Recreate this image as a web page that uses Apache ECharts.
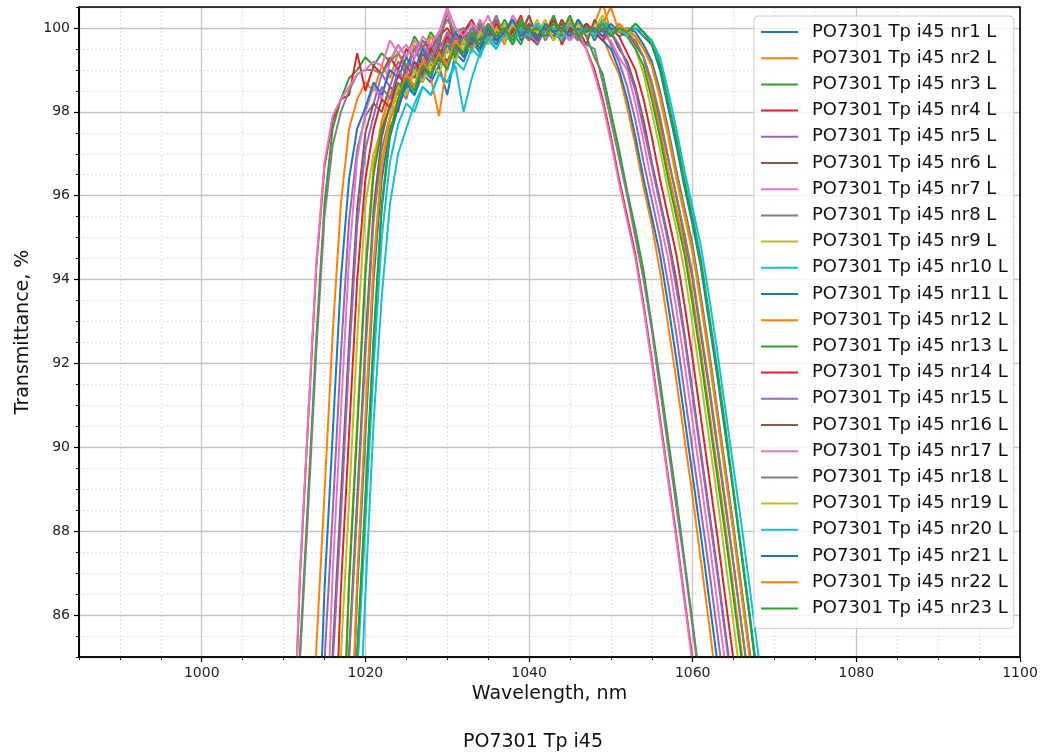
<!DOCTYPE html>
<html>
<head>
<meta charset="utf-8">
<script src="https://cdn.jsdelivr.net/npm/echarts@6/dist/echarts.min.js"></script>
<style>
  html, body { margin: 0; padding: 0; background: #fff; }
  #box { width: 1043px; height: 756px; }
</style>
</head>
<body>
<div id="box"></div>
<script>
// wavelength grid, nm
const wavelength = [1010, 1011, 1012, 1013, 1014, 1015, 1016, 1017, 1018, 1019, 1020,
  1021, 1022, 1023, 1024, 1025, 1026, 1027, 1028, 1029, 1030, 1031, 1032, 1033, 1034, 1035,
  1036, 1037, 1038, 1039, 1040, 1041, 1042, 1043, 1044, 1045, 1046, 1047, 1048, 1049, 1050,
  1051, 1052, 1053, 1054, 1055, 1056, 1057, 1058, 1059, 1060, 1061, 1062, 1063, 1064, 1065,
  1066, 1067, 1068, 1069, 1070];

// transmittance, %
const nr1 = [60, 60, 60, 60, 60, 62, 66, 71, 78, 85.0, 88.7,
  92.5, 95.7, 97.4, 98.1, 98.6, 98.4, 98.9, 98.7, 99.1, 98.4, 99.4,
  99.2, 99.7, 99.4, 99.9, 99.6, 100.0, 99.8, 100.1, 99.7, 100.0, 99.9, 100.2, 99.8, 100.0, 99.9, 100.1, 99.7, 100.0, 99.8, 100.1, 99.9, 100.0,
  99.8, 99.6, 99.0, 98.1, 97.2, 96.2, 95.3, 94.3, 93.0, 91.7, 90.3, 88.9, 87.4, 85.9, 84.3, 82.7, 80.8];
const nr2 = [62, 66, 71, 78.2, 85.2, 88.9, 92.7, 95.8, 97.6, 98.3, 98.7,
  98.5, 99.1, 98.8, 99.4, 99.0, 99.6, 99.2, 99.8, 99.5, 99.9, 99.6,
  100.0, 99.7, 100.2, 99.8, 100.0, 99.6, 100.1, 99.9, 100.3, 99.8, 100.0, 99.7, 100.1, 99.9, 100.2, 99.8, 100.0,
  99.8, 99.3, 98.9, 98.1, 97.2, 96.2, 95.3, 94.2, 92.9, 91.6, 90.2, 88.8, 87.3, 85.8, 84.2, 82.6, 80.8, 78, 76, 74, 72, 70];
const nr3 = [71, 78, 85.1, 88.8, 92.6, 95.8, 97.6, 98.3, 98.8, 99.0, 99.3,
  99.1, 99.4, 99.2, 99.6, 99.3, 99.8, 99.5, 99.9, 99.6, 100.4, 99.7,
  99.9, 100.1, 99.7, 100.0, 99.8, 100.2, 99.9, 99.6, 100.1, 99.8, 100.0, 99.7, 100.2, 99.9, 100.1,
  99.8, 99.3, 98.9, 98.0, 97.1, 96.1, 95.2, 94.2, 92.9, 91.6, 90.2, 88.8, 87.3, 85.8, 84.2, 82.6, 80.8, 78, 76, 74, 72, 70, 68, 66];
const nr4 = [74.5, 81.5, 86.9, 90.6, 94.3, 96.7, 97.8, 98.3, 98.4, 99.4, 98.5,
  99.1, 98.9, 99.3, 99.0, 99.5, 99.3, 99.7, 99.5, 99.8, 100.0, 99.7,
  99.9, 100.2, 99.8, 100.0, 99.7, 100.1, 99.9, 100.2, 99.8, 99.6, 100.0, 99.9, 99.7, 100.1, 99.8,
  99.5, 99.0, 98.3, 97.4, 96.4, 95.5, 94.6, 93.4, 92.1, 90.7, 89.3, 87.9, 86.4, 84.9, 83.4, 81.8, 78.5, 76, 74, 72, 70, 68, 66, 64];
const nr5 = [60, 62, 66, 71, 78, 84.9, 88.4, 92.2, 95.4, 97.1, 97.9,
  98.2, 98.9, 98.6, 99.2, 98.9, 99.5, 99.1, 99.6, 99.3, 99.9, 99.5,
  99.9, 99.6, 100.1, 99.8, 100.0, 99.7, 100.2, 99.9, 99.8, 100.1, 99.7, 100.0, 99.9, 100.2, 99.8, 100.0, 99.9, 100.1,
  99.6, 99.2, 98.6, 97.8, 96.8, 95.9, 95.0, 93.9, 92.7, 91.3, 89.9, 88.5, 87.1, 85.6, 84.1, 82.5, 80.8, 78, 76, 74, 72];
const nr6 = [60, 60, 62, 66, 71, 78, 85.1, 88.8, 92.5, 95.7, 97.5,
  98.2, 98.0, 98.6, 98.4, 99.1, 98.8, 99.4, 99.1, 99.6, 100.4, 99.5,
  99.9, 99.6, 100.0, 99.8, 100.2, 99.7, 100.0, 99.9, 100.1, 99.7, 100.0, 99.8, 100.2, 99.9, 99.7, 100.0, 99.8, 100.1, 99.9,
  99.5, 99.2, 98.6, 97.8, 96.8, 95.9, 95.0, 94.0, 92.7, 91.3, 89.9, 88.5, 87.1, 85.6, 84.1, 82.5, 80.8, 78, 76, 74];
const nr7 = [60, 60, 63, 67, 74.6, 81.7, 87.0, 90.8, 94.5, 96.9, 98.0,
  98.6, 98.3, 99.2, 99.6, 99.3, 99.7, 99.4, 99.6, 99.9, 100.4, 99.8,
  100.0, 99.7, 100.2, 99.9, 100.1, 99.8, 100.3, 100.0, 99.7, 100.1, 99.9, 100.2, 99.8, 100.0, 99.7, 100.1, 99.9, 99.8,
  99.7, 99.3, 99.0, 98.2, 97.3, 96.3, 95.4, 94.5, 93.3, 92.0, 90.6, 89.2, 87.8, 86.3, 84.8, 83.2, 81.6, 78.5, 76, 74, 72];
const nr8 = [71, 78, 84.9, 88.5, 92.3, 95.5, 97.2, 98.0, 98.5, 98.9, 99.0,
  99.0, 98.9, 99.2, 99.4, 99.1, 99.5, 99.7, 99.4, 99.8, 100.2, 99.9,
  100.0, 99.7, 100.1, 99.9, 100.3, 99.8, 99.9, 100.1, 99.7, 100.0, 99.9, 100.2, 99.8, 100.0, 99.9,
  99.6, 99.5, 98.7, 97.8, 96.9, 96.0, 95.0, 94.0, 92.8, 91.4, 90.0, 88.6, 87.2, 85.7, 84.2, 82.6, 80.8, 78, 76, 74, 72, 70, 68, 66];
const nr9 = [60, 60, 60, 62, 66, 71, 78, 85.0, 88.7, 92.6, 95.8,
  97.0, 97.6, 98.5, 98.3, 98.9, 98.6, 99.2, 99.0, 99.5, 99.2, 99.7,
  99.5, 99.9, 99.6, 100.0, 99.8, 100.1, 99.7, 100.0, 99.9, 100.2, 99.8, 100.0, 99.7, 100.1, 99.9, 100.0, 99.8, 100.2, 99.9, 100.0,
  99.8, 99.5, 98.9, 98.0, 97.1, 96.1, 95.2, 94.2, 92.9, 91.6, 90.2, 88.8, 87.3, 85.8, 84.2, 82.6, 80.8, 78, 76];
const nr10 = [60, 60, 60, 60, 60, 60, 63, 67, 74.3, 82.0, 86.5,
  90.6, 93.6, 95.8, 97.0, 97.6, 98.2, 98.6, 98.4, 98.9, 98.7, 99.1,
  98.0, 98.8, 99.4, 99.7, 99.5, 99.9, 99.6, 100.0, 99.8, 100.1, 99.9, 100.0, 99.7, 100.1, 99.9, 100.0, 99.8, 100.1, 99.9, 100.0, 99.9, 100.1,
  99.9, 99.7, 99.3, 98.5, 97.6, 96.6, 95.7, 94.8, 93.6, 92.3, 90.9, 89.5, 88.1, 86.6, 85.1, 83.5, 81.8];
const nr11 = [60, 63, 67, 74.5, 81.4, 86.6, 90.3, 94.0, 96.4, 97.6, 98.1,
  98.7, 98.4, 99.0, 98.8, 99.3, 99.0, 99.5, 99.2, 99.7, 99.4, 99.9,
  99.6, 100.0, 99.7, 100.1, 99.8, 99.9, 100.2, 99.7, 100.0, 99.8, 100.1, 99.9, 99.7, 100.0, 99.8, 100.1, 99.9,
  99.7, 99.5, 99.0, 98.3, 97.4, 96.4, 95.5, 94.6, 93.4, 92.1, 90.7, 89.3, 87.9, 86.4, 84.9, 83.4, 81.8, 78.5, 76, 74, 72, 70];
const nr12 = [60, 60, 60, 60, 63, 67, 74.6, 81.6, 86.9, 90.6, 94.3,
  96.7, 97.8, 98.4, 98.2, 98.9, 98.6, 99.0, 98.8, 97.9, 99.2, 99.6,
  99.3, 99.9, 99.6, 100.0, 99.7, 99.9, 100.2, 99.8, 100.0, 99.7, 100.1, 99.9, 100.0, 99.8, 100.2, 99.9, 100.1, 100.6, 99.9, 100.1,
  99.9, 99.7, 99.3, 98.5, 97.6, 96.6, 95.7, 94.8, 93.6, 92.3, 90.9, 89.5, 88.1, 86.6, 85.1, 83.5, 81.8, 78.5, 76];
const nr13 = [60, 60, 60, 60, 63, 67, 74.4, 81.4, 86.7, 90.4, 94.1,
  96.5, 97.6, 98.1, 98.7, 98.4, 99.0, 98.7, 99.3, 99.1, 99.6, 99.3,
  99.8, 99.5, 100.1, 99.7, 99.9, 100.0, 99.6, 100.1, 99.8, 100.0, 99.9, 100.3, 99.8, 100.0, 99.7, 100.1, 99.9, 100.2, 100.0, 99.9,
  99.8, 99.5, 99.1, 98.3, 97.4, 96.4, 95.5, 94.6, 93.4, 92.1, 90.7, 89.3, 87.9, 86.4, 84.9, 83.4, 81.8, 78.5, 76];
const nr14 = [60, 60, 60, 63, 67, 74.4, 81.3, 86.6, 90.3, 94.0, 96.4,
  97.6, 98.3, 98.1, 98.9, 98.6, 99.2, 98.9, 99.5, 99.2, 99.8, 99.4,
  99.9, 99.6, 100.0, 99.7, 100.1, 99.8, 99.9, 100.3, 99.7, 100.0, 99.9, 100.2, 99.6, 100.0, 99.8, 100.1, 99.9, 99.7, 100.0,
  99.8, 99.4, 99.0, 98.3, 97.4, 96.4, 95.5, 94.6, 93.4, 92.1, 90.7, 89.3, 87.9, 86.4, 84.9, 83.3, 81.7, 78.5, 76, 74];
const nr15 = [60, 60, 62, 66, 71, 78, 84.8, 88.3, 92.1, 95.3, 97.1,
  97.9, 98.6, 98.3, 99.0, 98.7, 99.3, 99.6, 99.2, 99.7, 99.4, 99.8,
  99.6, 100.0, 99.8, 100.1, 99.7, 99.9, 100.2, 99.8, 100.0, 99.6, 100.1, 99.9, 100.0, 99.7, 100.2, 99.9, 100.0, 99.8, 99.9,
  99.6, 99.1, 98.5, 97.6, 96.7, 95.8, 94.9, 93.8, 92.6, 91.2, 89.8, 88.4, 87.0, 85.5, 84.0, 82.5, 80.8, 78, 76, 74];
const nr16 = [60, 60, 60, 60, 62, 66, 71, 78, 85.1, 88.8, 92.5,
  95.7, 97.4, 98.2, 98.0, 98.9, 98.6, 99.2, 98.9, 99.5, 99.2, 99.6,
  99.4, 99.8, 99.5, 100.0, 99.7, 99.9, 100.1, 99.8, 100.3, 99.7, 100.0, 99.9, 100.1, 99.8, 100.0, 99.6, 100.2, 99.9, 100.0, 99.8, 99.9,
  99.6, 99.3, 98.7, 97.8, 96.9, 96.0, 95.0, 94.0, 92.7, 91.4, 90.0, 88.6, 87.2, 85.7, 84.2, 82.6, 80.8, 78];
const nr17 = [74.5, 81.6, 87.0, 90.7, 94.4, 96.8, 97.9, 98.3, 98.6, 98.9, 99.0,
  99.2, 99.1, 99.7, 99.4, 99.6, 99.3, 99.8, 99.6, 99.9, 100.5, 100.0,
  99.8, 100.1, 99.9, 100.3, 99.8, 100.0, 99.7, 100.2, 99.9, 100.1, 99.8, 100.0, 99.9, 99.7, 99.9,
  99.5, 98.9, 98.2, 97.3, 96.3, 95.4, 94.5, 93.3, 92.0, 90.6, 89.2, 87.8, 86.3, 84.8, 83.3, 81.7, 78.5, 76, 74, 72, 70, 68, 66, 64];
const nr18 = [60, 60, 60, 60, 62, 66, 71, 78, 84.9, 88.5, 92.2,
  95.4, 97.1, 97.9, 98.6, 98.3, 99.1, 98.8, 99.4, 99.1, 99.7, 99.4,
  99.8, 99.5, 100.1, 99.7, 100.0, 99.8, 100.2, 99.9, 99.7, 100.1, 99.8, 100.0, 99.9, 100.2, 99.7, 100.0, 99.8, 100.1, 99.9, 100.0, 99.8,
  99.7, 99.3, 98.7, 97.9, 96.9, 96.0, 95.1, 94.1, 92.8, 91.5, 90.1, 88.7, 87.2, 85.7, 84.2, 82.6, 80.8, 78];
const nr19 = [60, 60, 60, 60, 60, 63, 67, 74.5, 81.5, 86.7, 90.6,
  94.4, 96.8, 97.9, 98.6, 98.4, 99.0, 98.7, 99.2, 98.9, 99.5, 99.2,
  99.7, 99.4, 99.9, 99.6, 100.0, 99.7, 100.1, 99.8, 100.0, 99.9, 100.2, 99.7, 100.0, 99.8, 100.1, 99.9, 100.0, 100.3, 99.8, 100.0, 99.9,
  99.8, 99.5, 99.1, 98.3, 97.4, 96.4, 95.5, 94.6, 93.4, 92.1, 90.7, 89.3, 87.9, 86.4, 84.9, 83.4, 81.8, 78.5];
const nr20 = [60, 60, 60, 60, 60, 62, 66, 70.5, 77.5, 84.6, 88.2,
  91.9, 95.0, 96.8, 97.7, 98.2, 98.0, 98.6, 98.4, 98.9, 98.7, 99.2,
  99.0, 99.5, 99.3, 99.8, 99.5, 99.9, 99.7, 100.0, 99.8, 100.1, 99.9, 100.0, 99.7, 100.1, 99.9, 100.0, 99.8, 100.2, 99.9, 100.0, 99.8, 100.0,
  99.9, 99.7, 99.2, 98.3, 97.4, 96.4, 95.5, 94.5, 93.2, 91.9, 90.5, 89.0, 87.5, 86.0, 84.4, 82.8, 80.9];
const nr21 = [60, 60, 60, 60, 60, 63, 67, 74.4, 81.4, 86.6, 90.3,
  94.0, 96.4, 97.6, 98.1, 98.7, 98.4, 99.1, 98.8, 99.4, 99.1, 99.6,
  99.3, 99.8, 99.5, 100.0, 99.7, 99.9, 100.2, 99.8, 100.0, 99.7, 100.1, 99.9, 100.0, 99.8, 100.2, 99.9, 100.0, 99.8, 100.1, 99.9, 100.0,
  99.9, 99.6, 99.2, 98.5, 97.6, 96.6, 95.7, 94.8, 93.6, 92.3, 90.9, 89.5, 88.1, 86.6, 85.1, 83.5, 81.8, 78.5];
const nr22 = [60, 60, 60, 60, 60, 63, 67, 74.6, 81.6, 86.9, 90.7,
  94.3, 96.7, 97.8, 98.3, 98.9, 98.6, 99.2, 98.9, 99.4, 99.1, 99.7,
  99.4, 99.9, 99.6, 100.1, 99.8, 100.0, 99.7, 100.2, 99.9, 100.0, 99.8, 100.1, 99.9, 100.2, 99.8, 100.0, 99.9, 100.1, 100.5, 99.9, 100.0,
  99.8, 99.5, 99.1, 98.4, 97.5, 96.5, 95.6, 94.7, 93.5, 92.2, 90.8, 89.4, 88.0, 86.5, 85.0, 83.4, 81.8, 78.5];
const nr23 = [60, 60, 60, 60, 60, 62, 66, 71, 78, 85.1, 88.8,
  92.6, 95.8, 97.5, 98.3, 98.8, 98.5, 99.1, 98.9, 99.3, 99.0, 99.6,
  99.4, 99.9, 99.6, 100.1, 99.8, 100.0, 99.7, 100.2, 99.9, 100.0, 99.8, 100.1, 99.9, 100.3, 99.8, 100.0, 99.9, 100.1, 99.8, 100.0, 99.9, 100.1,
  99.9, 99.6, 99.1, 98.2, 97.3, 96.3, 95.4, 94.4, 93.1, 91.8, 90.4, 88.9, 87.4, 85.9, 84.3, 82.7, 80.8];

const curves = [nr1, nr2, nr3, nr4, nr5, nr6, nr7, nr8, nr9, nr10, nr11, nr12,
  nr13, nr14, nr15, nr16, nr17, nr18, nr19, nr20, nr21, nr22, nr23];

const names = ["PO7301 Tp i45 nr1 L", "PO7301 Tp i45 nr2 L", "PO7301 Tp i45 nr3 L",
  "PO7301 Tp i45 nr4 L", "PO7301 Tp i45 nr5 L", "PO7301 Tp i45 nr6 L",
  "PO7301 Tp i45 nr7 L", "PO7301 Tp i45 nr8 L", "PO7301 Tp i45 nr9 L",
  "PO7301 Tp i45 nr10 L", "PO7301 Tp i45 nr11 L", "PO7301 Tp i45 nr12 L",
  "PO7301 Tp i45 nr13 L", "PO7301 Tp i45 nr14 L", "PO7301 Tp i45 nr15 L",
  "PO7301 Tp i45 nr16 L", "PO7301 Tp i45 nr17 L", "PO7301 Tp i45 nr18 L",
  "PO7301 Tp i45 nr19 L", "PO7301 Tp i45 nr20 L", "PO7301 Tp i45 nr21 L",
  "PO7301 Tp i45 nr22 L", "PO7301 Tp i45 nr23 L"];

// matplotlib tab10
const palette = ["#1f77b4", "#ff7f0e", "#2ca02c", "#d62728", "#9467bd",
  "#8c564b", "#e377c2", "#7f7f7f", "#bcbd22", "#17becf"];

const font = "DejaVu Sans";
let myChart = echarts.init(document.getElementById("box"));

let option = {
  animation: false,
  color: palette,
  textStyle: { fontFamily: font },
  grid: {
    left: 79, right: 23, top: 7, bottom: 99,
    show: true, z: 5,
    backgroundColor: "transparent",
    borderColor: "#000", borderWidth: 1.6,
  },
  legend: {
    orient: "vertical",
    left: 754, top: 16,
    padding: [7, 6, 11, 7],
    icon: "rect",
    itemWidth: 37, itemHeight: 2, itemGap: 8.2,
    backgroundColor: "rgba(255,255,255,0.8)",
    borderColor: "#cccccc", borderWidth: 1, borderRadius: 4,
    textStyle: { fontFamily: font, fontSize: 18, lineHeight: 18, color: "#111", padding: [0, 0, 0, 9] },
    data: names,
  },
  xAxis: [
    {
      type: "value", min: 985, max: 1100, minInterval: 20, maxInterval: 20, z: 1,
      name: "Wavelength, nm", nameLocation: "middle", nameGap: 28,
      nameTextStyle: { fontFamily: font, fontSize: 19, color: "#111" },
      axisLine: { show: true, onZero: false, lineStyle: { color: "#000", width: 1.6 } },
      axisTick: { show: true, length: 5, lineStyle: { color: "#000", width: 1.2 } },
      axisLabel: {
        fontFamily: font, fontSize: 14, color: "#222", margin: 9,
        showMinLabel: false, showMaxLabel: true,
        formatter: (v) => String(v),
      },
      splitLine: { show: true, lineStyle: { color: "#c4c4c4", width: 1.3 } },
    },
    {
      type: "value", position: "bottom", min: 985, max: 1100, interval: 5, z: 0,
      axisLine: { show: false },
      axisTick: { show: true, length: 3, lineStyle: { color: "#000", width: 1 } },
      axisLabel: { show: false },
      splitLine: { show: true, lineStyle: { color: "#d4d4d4", width: 1, type: [1.5, 2.5] } },
    },
  ],
  yAxis: [
    {
      type: "value", min: 85, max: 100.5, minInterval: 2, maxInterval: 2, splitNumber: 8, z: 1,
      name: "Transmittance, %", nameLocation: "middle", nameGap: 43,
      nameTextStyle: { fontFamily: font, fontSize: 19, color: "#111" },
      axisLine: { show: true, onZero: false, lineStyle: { color: "#000", width: 1.6 } },
      axisTick: { show: true, length: 5, lineStyle: { color: "#000", width: 1.2 } },
      axisLabel: {
        fontFamily: font, fontSize: 14, color: "#222", margin: 9,
        showMinLabel: false, showMaxLabel: false,
        formatter: (v) => String(v),
      },
      splitLine: { show: true, lineStyle: { color: "#c4c4c4", width: 1.3 } },
    },
    {
      type: "value", position: "left", min: 85, max: 100.5, interval: 0.5, z: 0,
      axisLine: { show: false },
      axisTick: { show: true, length: 3, lineStyle: { color: "#000", width: 1 } },
      axisLabel: { show: false },
      splitLine: { show: true, lineStyle: { color: "#d4d4d4", width: 1, type: [1.5, 2.5] } },
    },
  ],
  graphic: [
    {
      type: "text", x: 533, y: 742,
      style: { text: "PO7301 Tp i45", fontFamily: font, fontSize: 19, fill: "#111", align: "center", verticalAlign: "middle" },
    },
  ],
  series: curves.map((vals, i) => ({
    name: names[i],
    type: "line",
    data: wavelength.map((w, j) => [w, vals[j]]),
    symbol: "none",
    clip: true,
    lineStyle: { width: 2 },
    emphasis: { disabled: true },
  })),
};

myChart.setOption(option);
</script>
</body>
</html>
